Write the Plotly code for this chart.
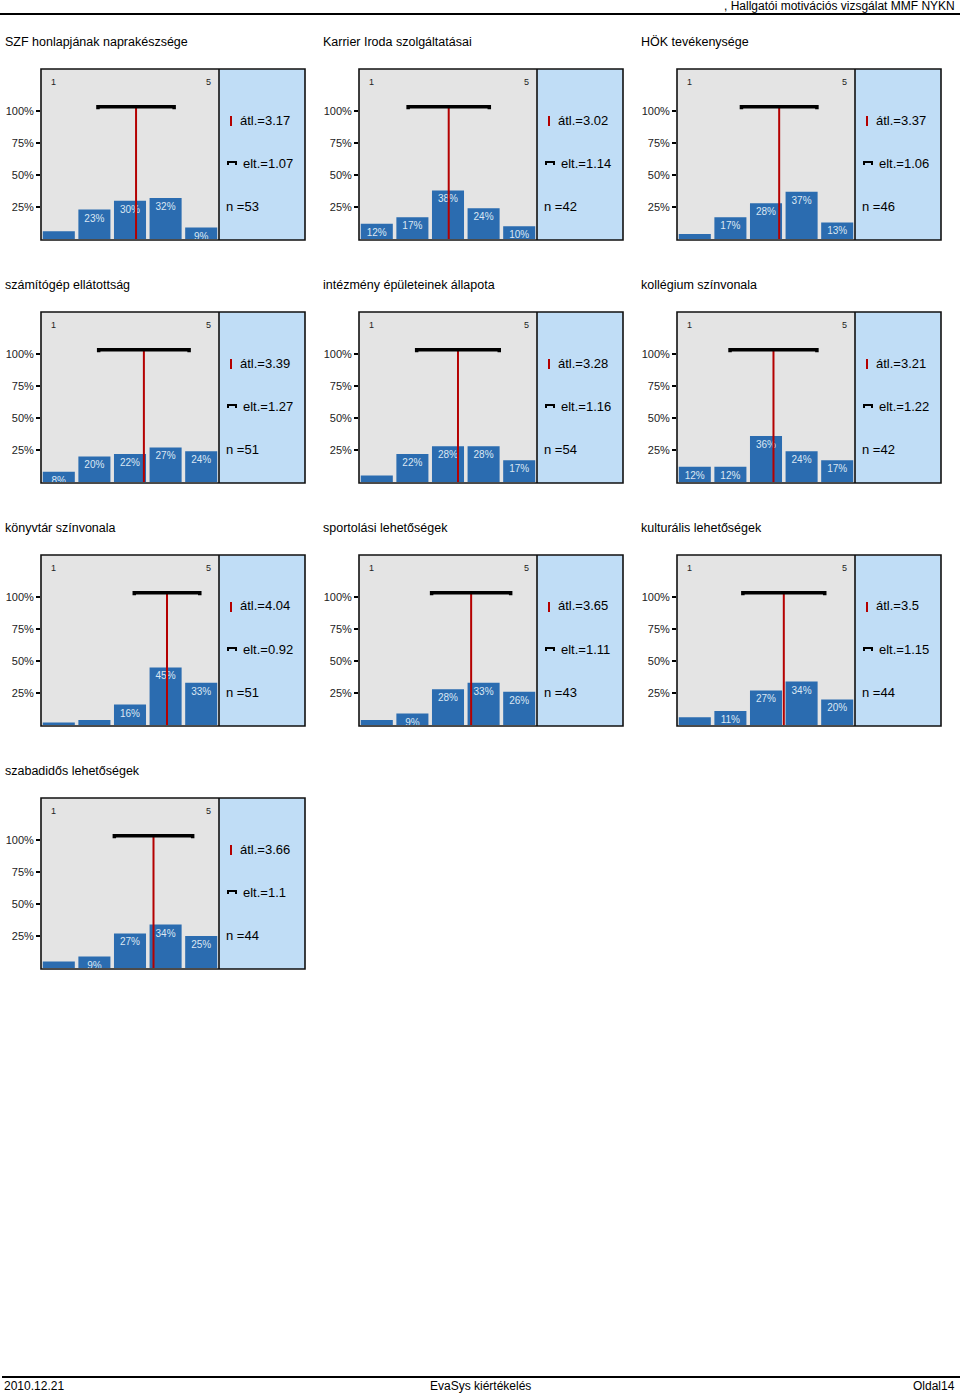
import plotly.graph_objects as go

W, H = 960, 1395

# ---------------- data ----------------
titles = [
    "SZF honlapjának naprakészsége",
    "Karrier Iroda szolgáltatásai",
    "HÖK tevékenysége",
    "számítógép ellátottság",
    "intézmény épületeinek állapota",
    "kollégium színvonala",
    "könyvtár színvonala",
    "sportolási lehetőségek",
    "kulturális lehetőségek",
    "szabadidős lehetőségek",
]
categories = [1, 2, 3, 4, 5]
pct_szf = [6, 23, 30, 32, 9]
pct_karrier = [12, 17, 38, 24, 10]
pct_hok = [4, 17, 28, 37, 13]
pct_szamitogep = [8, 20, 22, 27, 24]
pct_intezmeny = [5, 22, 28, 28, 17]
pct_kollegium = [12, 12, 36, 24, 17]
pct_konyvtar = [2, 4, 16, 45, 33]
pct_sport = [4, 9, 28, 33, 26]
pct_kultura = [6, 11, 27, 34, 20]
pct_szabadido = [5, 9, 27, 34, 25]
percentages = [pct_szf, pct_karrier, pct_hok, pct_szamitogep, pct_intezmeny,
               pct_kollegium, pct_konyvtar, pct_sport, pct_kultura, pct_szabadido]
means = [3.17, 3.02, 3.37, 3.39, 3.28, 3.21, 4.04, 3.65, 3.5, 3.66]
sds = [1.07, 1.14, 1.06, 1.27, 1.16, 1.22, 0.92, 1.11, 1.15, 1.1]
ns = [53, 42, 46, 51, 54, 42, 51, 43, 44, 44]
ytick_vals = [25, 50, 75, 100]
ytick_text = ["25%", "50%", "75%", "100%"]

header_text = ", Hallgatói motivációs vizsgálat MMF NYKN"
footer_left = "2010.12.21"
footer_center = "EvaSys kiértékelés"
footer_right = "Oldal14"

# ---------------- style ----------------
BAR = "#2b6cb0"
GREY = "#e4e4e4"
SIDE = "#c0ddf6"
RED = "#b40000"
FONT = "Liberation Sans, Arial, sans-serif"
NARROW = "Liberation Sans Narrow, Arial Narrow, Liberation Sans, sans-serif"
BRACKET_Y = 103.5
CAP_Y = 101.5


def px(x):
    return x / W


def py(y):
    return 1 - y / H


fig = go.Figure()
shapes = []
annotations = []

for i, title in enumerate(titles):
    col, row = i % 3, i // 3
    ox, oy = col * 318, row * 243
    k = i + 1
    xa = "x" if k == 1 else f"x{k}"
    ya = "y" if k == 1 else f"y{k}"
    vals = percentages[i]
    m, s = means[i], sds[i]

    fig.add_trace(go.Bar(
        x=categories, y=vals, xaxis=xa, yaxis=ya,
        marker=dict(color=BAR, line=dict(width=0)),
        text=[f"{v}%" if v >= 8 else "" for v in vals],
        textposition="inside", insidetextanchor="end",
        constraintext="none",
        textfont=dict(family=FONT, size=10, color="#dbe7f3"),
        showlegend=False, hoverinfo="skip",
    ))
    # mean line
    fig.add_trace(go.Scatter(
        x=[m, m], y=[0, BRACKET_Y], xaxis=xa, yaxis=ya, mode="lines",
        line=dict(color=RED, width=2), showlegend=False, hoverinfo="skip",
    ))
    # SD bracket
    fig.add_trace(go.Scatter(
        x=[m - s, m - s, m + s, m + s], y=[CAP_Y, BRACKET_Y, BRACKET_Y, CAP_Y],
        xaxis=xa, yaxis=ya, mode="lines",
        line=dict(color="black", width=3.5), showlegend=False, hoverinfo="skip",
    ))

    axk = "" if k == 1 else str(k)
    fig.update_layout(**{
        f"xaxis{axk}": dict(domain=[px(41 + ox), px(219 + ox)], range=[0.5, 5.5],
                            showticklabels=False, showgrid=False, zeroline=False,
                            ticks="", anchor=ya, fixedrange=True),
        f"yaxis{axk}": dict(domain=[py(239 + oy), py(69 + oy)], range=[0, 133],
                            tickvals=ytick_vals, ticktext=ytick_text,
                            ticks="outside", ticklen=4, tickcolor="black", tickwidth=1.5,
                            tickfont=dict(family=FONT, size=11, color="#222"),
                            showgrid=False, zeroline=False, anchor=xa, fixedrange=True),
    })

    # side panel
    shapes.append(dict(type="rect", xref="paper", yref="paper",
                       x0=px(219 + ox), x1=px(305 + ox), y0=py(240 + oy), y1=py(69 + oy),
                       fillcolor=SIDE, line=dict(width=0), layer="below"))
    # border
    shapes.append(dict(type="rect", xref="paper", yref="paper",
                       x0=px(41 + ox), x1=px(305 + ox), y0=py(240 + oy), y1=py(69 + oy),
                       line=dict(color="#111", width=1.6), fillcolor="rgba(0,0,0,0)"))
    shapes.append(dict(type="line", xref="paper", yref="paper",
                       x0=px(219 + ox), x1=px(219 + ox), y0=py(240 + oy), y1=py(69 + oy),
                       line=dict(color="#111", width=1.6)))
    # legend glyphs
    shapes.append(dict(type="line", xref="paper", yref="paper",
                       x0=px(231 + ox), x1=px(231 + ox), y0=py(126 + oy), y1=py(116 + oy),
                       line=dict(color=RED, width=2)))
    shapes.append(dict(type="path", xref="paper", yref="paper",
                       path=(f"M {px(228 + ox)},{py(165 + oy)} L {px(228 + ox)},{py(162 + oy)} "
                             f"L {px(236 + ox)},{py(162 + oy)} L {px(236 + ox)},{py(165 + oy)}"),
                       line=dict(color="black", width=2)))

    # texts
    annotations.append(dict(text=title, xref="paper", yref="paper",
                            x=px(3 + ox), y=py(42 + oy), xanchor="left", yanchor="middle",
                            showarrow=False, font=dict(family=FONT, size=12.5, color="black")))
    annotations.append(dict(text="1", xref="paper", yref="paper",
                            x=px(53 + ox), y=py(82 + oy), xanchor="center", yanchor="middle",
                            showarrow=False, font=dict(family=FONT, size=9, color="#222")))
    annotations.append(dict(text="5", xref="paper", yref="paper",
                            x=px(208 + ox), y=py(82 + oy), xanchor="center", yanchor="middle",
                            showarrow=False, font=dict(family=FONT, size=9, color="#222")))
    annotations.append(dict(text=f"átl.={m}", xref="paper", yref="paper",
                            x=px(238 + ox), y=py(120 + oy), xanchor="left", yanchor="middle",
                            showarrow=False, font=dict(family=FONT, size=13, color="black")))
    annotations.append(dict(text=f"elt.={s}", xref="paper", yref="paper",
                            x=px(241 + ox), y=py(163 + oy), xanchor="left", yanchor="middle",
                            showarrow=False, font=dict(family=FONT, size=13, color="black")))
    annotations.append(dict(text=f"n ={ns[i]}", xref="paper", yref="paper",
                            x=px(224 + ox), y=py(206 + oy), xanchor="left", yanchor="middle",
                            showarrow=False, font=dict(family=FONT, size=13, color="black")))

# header / footer
shapes.append(dict(type="line", xref="paper", yref="paper", x0=0, x1=1,
                   y0=py(14), y1=py(14), line=dict(color="black", width=2)))
shapes.append(dict(type="line", xref="paper", yref="paper", x0=px(2), x1=1,
                   y0=py(1377), y1=py(1377), line=dict(color="black", width=2)))
annotations.append(dict(text=header_text, xref="paper", yref="paper", x=px(957), y=py(6),
                        xanchor="right", yanchor="middle", showarrow=False,
                        font=dict(family=FONT, size=12, color="black")))
annotations.append(dict(text=footer_left, xref="paper", yref="paper", x=px(2), y=py(1386),
                        xanchor="left", yanchor="middle", showarrow=False,
                        font=dict(family=NARROW, size=12, color="black")))
annotations.append(dict(text=footer_center, xref="paper", yref="paper", x=px(480), y=py(1386),
                        xanchor="center", yanchor="middle", showarrow=False,
                        font=dict(family=NARROW, size=12, color="black")))
annotations.append(dict(text=footer_right, xref="paper", yref="paper", x=px(957), y=py(1386),
                        xanchor="right", yanchor="middle", showarrow=False,
                        font=dict(family=NARROW, size=12, color="black")))

fig.update_layout(
    width=W, height=H, margin=dict(l=0, r=0, t=0, b=0),
    paper_bgcolor="white", plot_bgcolor=GREY,
    bargap=0.1, showlegend=False,
    shapes=shapes, annotations=annotations,
    font=dict(family=FONT),
)

fig.write_html("out.html", config={"displayModeBar": False},
               post_script="document.body.style.margin='0';document.body.style.overflow='hidden';")
